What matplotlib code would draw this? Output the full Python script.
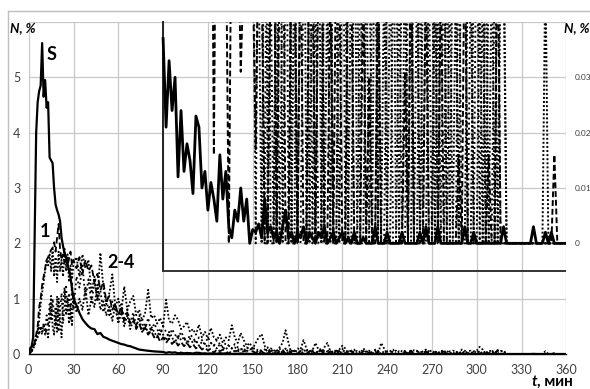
import numpy as np
import matplotlib.pyplot as plt
from matplotlib.lines import Line2D

plt.rcParams['font.family'] = ['Lato', 'DejaVu Sans']

# time, min: 1-min steps up to 30, then 2-min steps
t = np.concatenate([np.arange(0, 31), np.arange(32, 361, 2)])

# S — total
s_early = [0.02, 0.1, 0.14, 0.3, 2.2, 4.0, 4.55, 4.75, 4.85, 5.62,
           4.65, 4.95, 4.45, 4.55, 3.55, 3.5, 3.45, 3.0, 2.7, 2.6,
           2.52, 2.4, 2.1, 1.95, 1.82, 1.76, 1.62, 1.5, 1.38, 1.18, 1.0]
s_mid = [0.88, 0.74, 0.63, 0.56, 0.50, 0.46, 0.45, 0.36, 0.38, 0.31,
         0.29, 0.26, 0.24, 0.22, 0.20, 0.18, 0.17, 0.15, 0.14, 0.12,
         0.10, 0.08, 0.072, 0.065, 0.058, 0.052, 0.047, 0.043, 0.040, 0.037,
         0.021, 0.033, 0.024, 0.030, 0.012, 0.024, 0.013, 0.018, 0.015, 0.009,
         0.023, 0.021, 0.010, 0.013, 0.006, 0.011, 0.008, 0.004, 0.016, 0.008,
         0.013, 0.003, 0.001, 0.006, 0.004, 0.010, 0.004, 0.008, 0.0, 0.0025]
s_late = [0.002, 0.0035, 0.001, 0.008, 0.002, 0.003, 0.001, 0.002, 0.0, 0.003,
          0.006, 0.001, 0.002, 0.0, 0.002, 0.001, 0.003, 0.0, 0.002, 0.001,
          0.0, 0.002, 0.001, 0.003, 0.0, 0.001, 0.002, 0.0, 0.001, 0.002,
          0.0, 0.001, 0.0, 0.002, 0.0, 0.0, 0.001, 0.0, 0.0, 0.0,
          0.003, 0, 0, 0, 0.002, 0, 0, 0, 0, 0.002,
          0, 0, 0, 0, 0, 0.002, 0, 0.003, 0, 0,
          0, 0.003, 0, 0, 0, 0, 0, 0, 0, 0,
          0.003, 0, 0, 0.002, 0, 0, 0, 0, 0, 0,
          0, 0, 0, 0.003, 0, 0, 0, 0, 0, 0,
          0, 0, 0, 0.003, 0, 0, 0, 0.002, 0, 0.002,
          0, 0, 0, 0, 0]

# 1 — dashed
d1_early = [0.0, 0.02, 0.05, 0.1, 0.2, 0.35, 0.5, 0.85, 1.0, 1.25,
            1.4, 1.55, 1.7, 1.75, 1.82, 1.88, 1.92, 2.02, 1.85, 2.1,
            2.35, 1.9, 1.7, 1.8, 1.65, 1.75, 1.6, 1.72, 1.85, 1.6, 1.7]
d1_mid = [1.55, 1.75, 1.45, 1.70, 1.50, 1.60, 1.30, 1.45, 1.15, 1.30,
          0.95, 1.05, 0.80, 0.90, 0.70, 0.85, 0.60, 0.75, 0.55, 0.65,
          0.45, 0.55, 0.40, 0.48, 0.35, 0.42, 0.30, 0.35, 0.22, 0.30,
          0.20, 0.28, 0.18, 0.25, 0.15, 0.22, 0.14, 0.20, 0.12, 0.18,
          0.10, 0.15, 0.08, 0.12, 0.06, 0.10, 0.016, 0.09, 0.05, 0.08,
          0.06, 0.0, 0.07, 0.05, 0.06, 0.031, 0.05, 0.06, 0.045, 0.05]
d1_late = [0.017, 0.06, 0.05, 0, 0, 0.05, 0.07, 0, 0.05, 0.08,
           0, 0, 0.06, 0.05, 0, 0.06, 0, 0, 0.06, 0.05,
           0, 0.05, 0.06, 0, 0, 0.05, 0, 0.06, 0.05, 0,
           0, 0.06, 0.05, 0, 0, 0, 0.05, 0, 0.03, 0,
           0, 0.05, 0, 0, 0, 0, 0, 0, 0, 0,
           0.031, 0, 0.06, 0, 0, 0, 0, 0.05, 0, 0,
           0, 0, 0.05, 0, 0, 0, 0, 0, 0.016, 0,
           0.06, 0, 0, 0, 0, 0, 0, 0, 0.016, 0,
           0, 0.06, 0, 0, 0, 0, 0, 0, 0, 0,
           0, 0, 0, 0, 0, 0, 0, 0, 0, 0,
           0.016, 0, 0, 0, 0]

# 2-4 — dotted
d2_early = [0.0, 0.02, 0.05, 0.1, 0.15, 0.25, 0.4, 0.6, 0.9, 1.1,
            1.3, 1.5, 1.7, 1.6, 1.8, 1.5, 1.9, 1.4, 1.75, 1.3,
            1.85, 1.5, 1.7, 1.4, 1.9, 1.5, 1.8, 1.3, 1.6, 1.35, 1.65]
d2_mid = [1.75, 1.40, 1.80, 1.55, 1.70, 1.10, 1.40, 0.95, 1.83, 1.20,
          0.90, 1.10, 1.44, 0.85, 1.00, 0.75, 1.22, 0.80, 0.95, 1.05,
          0.70, 0.80, 0.60, 0.75, 1.16, 0.65, 0.70, 0.55, 0.65, 0.50,
          0.98, 0.60, 0.55, 0.70, 0.62, 0.45, 0.50, 0.58, 0.40, 0.45,
          0.35, 0.53, 0.30, 0.40, 0.28, 0.47, 0.30, 0.25, 0.35, 0.20,
          0.30, 0.25, 0.52, 0.30, 0.20, 0.38, 0.25, 0.15, 0.20, 0.10]
d2_late = [0.2, 0.3, 0.36, 0.15, 0, 0.1, 0.08, 0, 0.12, 0.2,
           0.43, 0.2, 0, 0, 0.1, 0.08, 0.25, 0.1, 0, 0.06,
           0.2, 0.08, 0, 0.12, 0.2, 0.05, 0, 0, 0.08, 0.15,
           0.1, 0, 0.06, 0.08, 0, 0, 0.1, 0.06, 0, 0,
           0.08, 0, 0.2, 0.1, 0, 0.05, 0.08, 0, 0, 0.06,
           0.05, 0, 0, 0.07, 0.06, 0, 0.05, 0.08, 0, 0,
           0.06, 0, 0.05, 0.07, 0, 0, 0.06, 0.05, 0, 0.08,
           0.06, 0, 0, 0.05, 0.06, 0.13, 0.08, 0, 0.05, 0.06,
           0, 0.07, 0.05, 0.06, 0, 0, 0, 0, 0, 0,
           0, 0, 0, 0, 0, 0, 0, 0.05, 0, 0,
           0, 0, 0, 0, 0]

d3_early = [0.0, 0.05, 0.1, 0.15, 0.2, 0.3, 0.45, 0.35, 0.5, 0.4,
            0.55, 0.35, 0.45, 0.3, 0.6, 1.05, 0.5, 0.35, 0.85, 0.4,
            1.0, 0.6, 0.3, 0.9, 1.2, 0.7, 1.0, 0.55, 0.9, 0.5, 1.1]
d3_mid = [0.75, 1.00, 0.80, 1.20, 0.70, 1.00, 0.85, 1.25, 0.80, 0.95,
          0.70, 0.85, 0.60, 0.90, 0.55, 0.75, 0.50, 0.70, 0.45, 0.60,
          0.50, 0.65, 0.40, 0.55, 0.35, 0.50, 0.40, 0.30, 0.45, 0.35,
          0.25, 0.40, 0.30, 0.20, 0.35, 0.25, 0.30, 0.18, 0.28, 0.20,
          0.25, 0.15, 0.22, 0.18, 0.12, 0.20, 0.15, 0.10, 0.18, 0.12,
          0.08, 0.15, 0.10, 0.12, 0.08, 0.10, 0.06, 0.12, 0.08, 0.10]
d3_late = [0.1, 0.05, 0, 0.08, 0.12, 0, 0, 0.06, 0.1, 0,
           0.05, 0.08, 0, 0.06, 0, 0.05, 0.1, 0, 0.05, 0.07,
           0, 0.06, 0.1, 0, 0.05, 0, 0.07, 0.05, 0, 0.06,
           0.05, 0, 0, 0.06, 0.05, 0, 0, 0.05, 0.06, 0,
           0, 0.06, 0, 0.05, 0, 0, 0.05, 0.06, 0, 0,
           0.06, 0, 0.05, 0, 0, 0.06, 0, 0, 0.05, 0.06,
           0, 0.05, 0, 0, 0.06, 0, 0, 0.05, 0, 0,
           0, 0.05, 0.06, 0, 0, 0.05, 0, 0.06, 0, 0.05,
           0.06, 0, 0.05, 0.05, 0, 0, 0, 0, 0, 0,
           0, 0, 0, 0, 0, 0, 0, 0, 0, 0,
           0, 0, 0, 0, 0]

d4_early = [0.0, 0.03, 0.08, 0.12, 0.25, 0.35, 0.3, 0.5, 0.45, 0.35,
            0.55, 0.4, 0.7, 0.5, 0.9, 0.6, 1.0, 0.7, 0.5, 1.05,
            0.4, 0.8, 1.1, 0.55, 0.85, 1.25, 0.75, 1.1, 0.6, 1.3, 0.8]
d4_mid = [1.40, 1.20, 1.60, 1.00, 1.35, 0.90, 1.30, 1.00, 1.15, 0.75,
          1.00, 0.70, 0.95, 0.80, 0.60, 0.90, 0.65, 0.80, 0.55, 0.75,
          0.50, 0.70, 0.55, 0.45, 0.65, 0.40, 0.55, 0.45, 0.35, 0.50,
          0.40, 0.30, 0.45, 0.35, 0.28, 0.40, 0.30, 0.22, 0.35, 0.30,
          0.20, 0.30, 0.25, 0.18, 0.30, 0.20, 0.15, 0.25, 0.18, 0.12,
          0.20, 0.15, 0.10, 0.18, 0.12, 0.08, 0.15, 0.10, 0.12, 0.08]
d4_late = [0, 0.08, 0.06, 0, 0.1, 0.05, 0, 0.07, 0, 0.05,
           0.1, 0, 0.05, 0.06, 0, 0, 0.05, 0.06, 0.08, 0,
           0.05, 0, 0, 0.06, 0.05, 0.07, 0, 0, 0.05, 0.1,
           0, 0.05, 0.06, 0, 0, 0.05, 0.06, 0, 0, 0.05,
           0.06, 0, 0, 0, 0.05, 0.06, 0, 0, 0.05, 0,
           0, 0.05, 0.06, 0, 0.05, 0, 0, 0.06, 0.05, 0,
           0.05, 0, 0, 0.06, 0, 0.05, 0, 0, 0.06, 0,
           0, 0, 0.05, 0, 0.07, 0, 0.05, 0, 0, 0,
           0.05, 0.06, 0, 0, 0, 0, 0, 0, 0, 0,
           0, 0, 0, 0, 0, 0, 0, 0, 0, 0,
           0, 0, 0, 0, 0]

S = np.array(s_early + s_mid + s_late)
D1 = np.array(d1_early + d1_mid + d1_late)
D2 = np.array(d2_early + d2_mid + d2_late)
D3 = np.array(d3_early + d3_mid + d3_late)
D4 = np.array(d4_early + d4_mid + d4_late)
for arr in (S, D1, D2, D3, D4):
    assert len(arr) == len(t), len(arr)

X_TICKS = np.arange(0, 361, 30)
Y_TICKS = np.arange(0, 7)
Y2_TICKS = [0, 0.01, 0.02, 0.03]
INSET_START = 90     # the magnified tail is drawn from here on
INSET_FLOOR = 1.5    # lower edge of the magnified frame, main-axis units

W, H = 590, 389
fig = plt.figure(figsize=(W / 100, H / 100), dpi=100)
ax = fig.add_axes([28.7 / W, 35 / H, 537.6 / W, 332 / H])

grid_c = '#c8c8c8'
txt_c = '#404040'
dash = (0, (3.5, 1.8))
dot = (0, (1, 1.1))
dot2 = (0, (1, 1.6))

# main curves
ax.plot(t, D3, color='k', lw=1.3, ls=dot, zorder=3)
ax.plot(t, D4, color='k', lw=1.3, ls=dot2, zorder=3)
ax.plot(t, D2, color='k', lw=1.3, ls=dot, zorder=3)
ax.plot(t, D1, color='k', lw=1.3, ls=dash, zorder=3)
ax.plot(t, S, color='k', lw=1.6, zorder=4)

ax.set_xlim(0, 360)
ax.set_ylim(0, 6)
ax.set_xticks(X_TICKS)
ax.set_yticks(Y_TICKS)
ax.set_yticklabels([str(v) for v in Y_TICKS[:-1]] + [''])
ax.grid(True, color=grid_c, lw=0.9, zorder=0)
ax.set_axisbelow(True)
for side in ('left', 'right', 'top'):
    ax.spines[side].set_visible(False)
ax.spines['bottom'].set_color('k')
ax.spines['bottom'].set_linewidth(1.0)
ax.tick_params(axis='both', length=0, labelsize=9, labelcolor=txt_c)
ax.tick_params(axis='x', pad=7)
ax.tick_params(axis='y', pad=6)

# frame of the magnified tail
ax.plot([INSET_START, INSET_START], [INSET_FLOOR, 6], color='#222', lw=1.4,
        zorder=5, clip_on=False)
ax.plot([INSET_START, 360], [INSET_FLOOR, INSET_FLOOR], color='#333', lw=1.4,
        zorder=5)

# magnified tail on the secondary axis
ax2 = ax.twinx()
tail = t >= INSET_START
ax2.plot(t[tail], D3[tail], color='k', lw=1.4, ls=dot)
ax2.plot(t[tail], D4[tail], color='k', lw=1.4, ls=dot2)
ax2.plot(t[tail], D2[tail], color='k', lw=1.4, ls=dot)
ax2.plot(t[tail], D1[tail], color='k', lw=1.4, ls=(0, (3, 1.5)))
ax2.plot(t[tail], S[tail], color='k', lw=2.0)
ax2.set_ylim(-0.02, 0.04)
ax2.set_yticks(Y2_TICKS)
ax2.set_yticklabels(['0', '0.01', '0.02', '0.03'])
for side in ax2.spines:
    ax2.spines[side].set_visible(False)
ax2.tick_params(axis='y', length=0, labelsize=6, labelcolor=txt_c, pad=6)

# curve labels
ax.text(15.6, 5.42, 'S', fontsize=13, fontweight='bold', ha='center', va='center')
ax.text(11.2, 2.21, '1', fontsize=13, fontweight='bold', ha='center', va='center')
ax.text(61.8, 1.65, '2-4', fontsize=13, fontweight='bold', ha='center', va='center')

# axis titles
fig.text(10 / W, 1 - 28 / H, 'N, %', fontsize=9.5, fontweight='bold',
         style='italic', ha='left', va='center')
fig.text(564 / W, 1 - 28 / H, 'N, %', fontsize=9.5, fontweight='bold',
         style='italic', ha='left', va='center')
fig.text(537 / W, 1 - 382 / H, 't', fontsize=11, fontweight='bold',
         style='italic', ha='right', va='center')
fig.text(537 / W, 1 - 382 / H, ', мин', fontsize=11, fontweight='bold',
         ha='left', va='center')

# chart border
fig.add_artist(Line2D([8 / W, 1.0], [1 - 11 / H, 1 - 11 / H], color='#bfbfbf', lw=1))
fig.add_artist(Line2D([8 / W, 8 / W], [0.0, 1 - 11 / H], color='#bfbfbf', lw=1))

fig.savefig('out.png', dpi=100)
